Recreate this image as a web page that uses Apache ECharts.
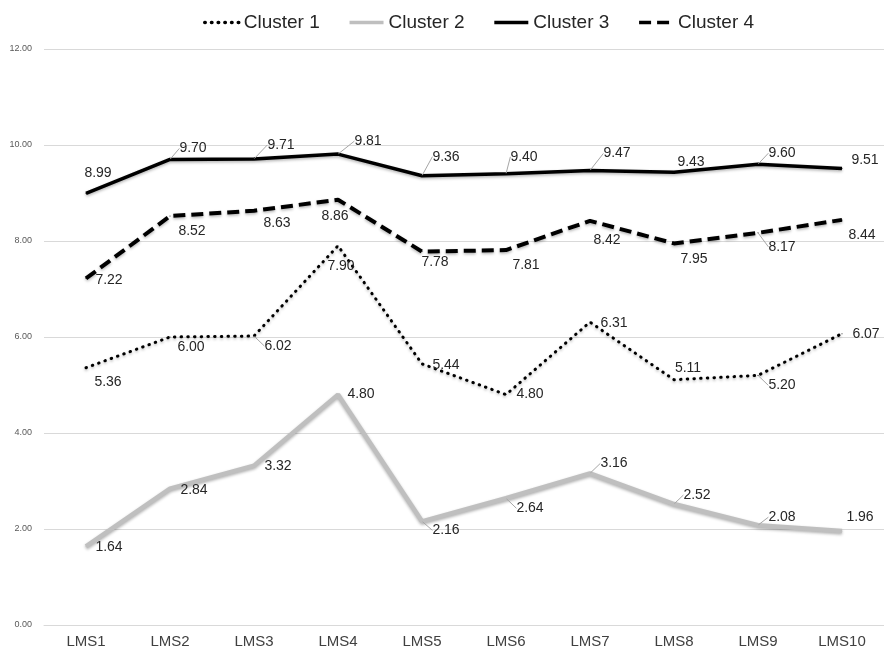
<!DOCTYPE html>
<html>
<head>
<meta charset="utf-8">
<script src="https://cdn.jsdelivr.net/npm/echarts@6/dist/echarts.min.js"></script>
<style>
  html, body { margin: 0; padding: 0; background: #fff; }
  #chart-main { width: 884px; height: 654px; }
</style>
</head>
<body>
<div id="chart-main"></div>
<script>
// Data
const categories = ['LMS1', 'LMS2', 'LMS3', 'LMS4', 'LMS5', 'LMS6', 'LMS7', 'LMS8', 'LMS9', 'LMS10'];
const cluster1 = [5.36, 6.00, 6.02, 7.90, 5.44, 4.80, 6.31, 5.11, 5.20, 6.07];
const cluster2 = [1.64, 2.84, 3.32, 4.80, 2.16, 2.64, 3.16, 2.52, 2.08, 1.96];
const cluster3 = [8.99, 9.70, 9.71, 9.81, 9.36, 9.40, 9.47, 9.43, 9.60, 9.51];
const cluster4 = [7.22, 8.52, 8.63, 8.86, 7.78, 7.81, 8.42, 7.95, 8.17, 8.44];

// Label placement (pixel offsets from each point) and leader line flags
const layout = {
    'Cluster 1': {
        offsets: [[22, 14], [21, 10], [24, 10], [3, 20], [24, 1], [24, 0], [24, 1], [14, -12], [24, 10], [24, 1]],
        leaders: [0, 0, 1, 0, 0, 0, 0, 0, 1, 0]
    },
    'Cluster 2': {
        offsets: [[23, 1], [24, 1], [24, 1], [23, 0], [24, 9], [24, 10], [24, -10], [23, -9], [24, -8], [18, -14]],
        leaders: [0, 0, 0, 0, 1, 1, 1, 1, 1, 0]
    },
    'Cluster 3': {
        offsets: [[12, -20], [23, -11], [27, -14], [30, -13], [24, -19], [18, -17], [27, -17], [17, -10], [24, -11], [23, -8]],
        leaders: [0, 1, 1, 1, 1, 1, 1, 0, 1, 0]
    },
    'Cluster 4': {
        offsets: [[23, 2], [22, 15], [23, 12], [-3, 16], [13, 11], [20, 15], [17, 19], [20, 16], [24, 14], [20, 15]],
        leaders: [0, 0, 0, 0, 0, 0, 0, 0, 1, 0]
    }
};

const FONT = '"Liberation Sans", Arial, sans-serif';

function buildData(name, values) {
    const l = layout[name];
    return values.map((v, i) => ({
        value: v,
        label: { offset: l.offsets[i] },
        labelLine: { show: !!l.leaders[i] }
    }));
}

function makeSeries(name, values, lineStyle) {
    return {
        name: name,
        type: 'line',
        data: buildData(name, values),
        symbol: 'circle',
        symbolSize: 1,
        itemStyle: { color: lineStyle.color },
        lineStyle: Object.assign({
            shadowColor: 'rgba(0,0,0,0.3)',
            shadowBlur: 3,
            shadowOffsetY: 1.5
        }, lineStyle),
        label: {
            show: true,
            position: 'inside',
            align: 'center',
            verticalAlign: 'middle',
            formatter: p => p.value.toFixed(2),
            color: '#262626',
            fontFamily: FONT,
            fontSize: 14
        },
        labelLine: {
            lineStyle: { color: '#a6a6a6', width: 1 }
        },
        animation: false,
        z: 3
    };
}

const chart = echarts.init(document.getElementById('chart-main'));
chart.setOption({
    backgroundColor: '#fff',
    animation: false,
    legend: {
        top: 8,
        left: 198,
        itemWidth: 34,
        itemHeight: 14,
        itemGap: 28,
        itemStyle: { opacity: 0 },
        lineStyle: { width: 3.5, shadowBlur: 0, shadowOffsetY: 0 },
        textStyle: { fontFamily: FONT, fontSize: 19, color: '#262626' },
        data: ['Cluster 1', 'Cluster 2', 'Cluster 3', 'Cluster 4']
    },
    grid: { left: 44, width: 846, top: 49, bottom: 29 },
    xAxis: {
        type: 'category',
        data: categories,
        boundaryGap: true,
        axisLine: { lineStyle: { color: '#d9d9d9' } },
        axisTick: { show: false },
        axisLabel: { color: '#404040', fontFamily: FONT, fontSize: 15, margin: 9 }
    },
    yAxis: {
        type: 'value',
        min: 0,
        max: 12,
        interval: 2,
        axisLine: { show: false },
        axisTick: { show: false },
        splitLine: { lineStyle: { color: '#d9d9d9', width: 1 } },
        axisLabel: {
            color: '#595959',
            fontFamily: FONT,
            fontSize: 9,
            margin: 12,
            formatter: v => v.toFixed(2)
        }
    },
    series: [
        makeSeries('Cluster 1', cluster1, { color: '#000', width: 3, type: [0.5, 6.2], cap: 'round' }),
        makeSeries('Cluster 2', cluster2, { color: '#bfbfbf', width: 4.5 }),
        makeSeries('Cluster 3', cluster3, { color: '#000', width: 3.5 }),
        makeSeries('Cluster 4', cluster4, { color: '#000', width: 4, type: [12, 6] })
    ]
});
</script>
</body>
</html>
